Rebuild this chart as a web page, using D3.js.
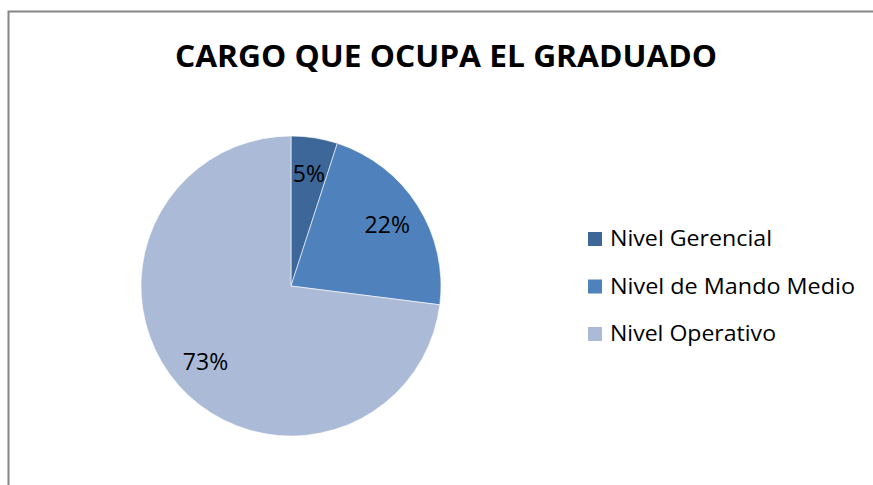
<!DOCTYPE html>
<html>
<head>
<meta charset="utf-8">
<script src="https://cdn.jsdelivr.net/npm/d3@7"></script>
<style>
  html, body { margin: 0; padding: 0; background: #fff; }
  svg { display: block; font-family: "Open Sans", "Liberation Sans", sans-serif; }
</style>
</head>
<body>
<div id="chart"></div>
<script>
const categories = ["Nivel Gerencial", "Nivel de Mando Medio", "Nivel Operativo"]
const values = [5, 22, 73]
const labels = ["5%", "22%", "73%"]
const colors = ["#3D6799", "#4F81BD", "#AABAD7"]

const width = 873
const height = 485
const cx = 291, cy = 286, radius = 150

const svg = d3.select("#chart")
    .append("svg")
    .attr("width", width)
    .attr("height", height)
    .attr("viewBox", [0, 0, width, height])

// frame (only top and left edges visible)
svg.append("path")
    .attr("fill", "none")
    .attr("stroke", "#868686")
    .attr("stroke-width", 2)
    .attr("d", `M8.5,${height}V11.5H${width}`)

svg.append("text")
    .attr("x", 446)
    .attr("y", 67)
    .attr("text-anchor", "middle")
    .attr("font-weight", "bold")
    .attr("font-size", 30)
    .attr("textLength", 542)
    .attr("lengthAdjust", "spacingAndGlyphs")
    .attr("fill", "#000")
    .text("CARGO QUE OCUPA EL GRADUADO")

const data = categories.map((c, i) => ({key: c, value: values[i], label: labels[i], color: colors[i]}))

const pie = d3.pie().sort(null).value(d => d.value)
const arc = d3.arc().innerRadius(0).outerRadius(radius)
const labelArc = d3.arc().innerRadius(114).outerRadius(114)

const layer_pie = svg.append("g").attr("transform", `translate(${cx},${cy})`)

layer_pie.selectAll("path")
    .data(pie(data))
    .join("path")
    .attr("d", arc)
    .attr("fill", d => d.data.color)
    .attr("stroke", "#fff")
    .attr("stroke-width", 0.6)

layer_pie.selectAll("text")
    .data(pie(data))
    .join("text")
    .attr("transform", d => `translate(${labelArc.centroid(d)})`)
    .attr("text-anchor", "middle")
    .attr("dy", "0.36em")
    .attr("font-size", 23)
    .attr("fill", "#000")
    .text(d => d.data.label)

// legend
const legendWidths = [162, 245, 166]
const legend = svg.append("g")
    .selectAll("g")
    .data(data)
    .join("g")
    .attr("transform", (d, i) => `translate(588,${232 + i * 47.5})`)

legend.append("rect")
    .attr("width", 14)
    .attr("height", 14)
    .attr("fill", d => d.color)

legend.append("text")
    .attr("x", 22)
    .attr("y", 14)
    .attr("font-size", 22)
    .attr("textLength", (d, i) => legendWidths[i])
    .attr("lengthAdjust", "spacingAndGlyphs")
    .attr("fill", "#000")
    .text(d => d.key)
</script>
</body>
</html>
